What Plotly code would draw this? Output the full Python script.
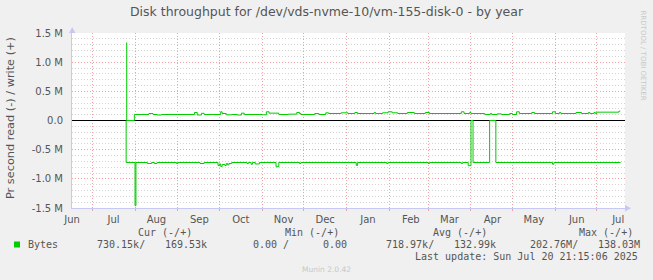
import plotly.graph_objects as go
import pandas as pd

# ---------------- data ----------------
TITLE = "Disk throughput for /dev/vds-nvme-10/vm-155-disk-0 - by year"
Y_TITLE = "Pr second read (-) / write (+)"

X_START = "2024-06-16 10:00"
X_END = "2025-07-21 10:00"

MONTHS = ["2024-06-01", "2024-07-01", "2024-08-01", "2024-09-01", "2024-10-01",
          "2024-11-01", "2024-12-01", "2025-01-01", "2025-02-01", "2025-03-01",
          "2025-04-01", "2025-05-01", "2025-06-01", "2025-07-01"]
MONTH_LABELS = ["Jun", "Jul", "Aug", "Sep", "Oct", "Nov", "Dec",
                "Jan", "Feb", "Mar", "Apr", "May", "Jun", "Jul"]

Y_TICKS = [-1.5e6, -1.0e6, -0.5e6, 0.0, 0.5e6, 1.0e6, 1.5e6]
Y_TICKTEXT = ["-1.5 M", "-1.0 M", "-0.5 M", "0.0", "0.5 M", "1.0 M", "1.5 M"]

# write (+), change points, kB/s
WRITE_DATES = ["2024-07-25 12:00", "2024-07-26", "2024-07-31 12:00", "2024-08-11", "2024-08-14",
               "2024-08-17", "2024-08-20", "2024-09-13", "2024-09-15", "2024-09-18",
               "2024-09-20", "2024-10-02", "2024-10-03", "2024-10-06", "2024-10-10",
               "2024-10-14", "2024-10-17", "2024-10-19", "2024-11-01", "2024-11-04",
               "2024-11-06", "2024-11-13", "2024-11-20", "2024-11-26", "2024-11-28",
               "2024-11-29", "2024-12-09", "2024-12-12", "2024-12-17", "2024-12-19",
               "2024-12-28", "2025-01-02", "2025-01-07", "2025-01-09", "2025-01-21",
               "2025-01-22", "2025-01-27", "2025-01-31", "2025-02-03", "2025-02-07",
               "2025-02-14", "2025-02-19", "2025-02-27", "2025-03-02", "2025-03-25",
               "2025-03-27", "2025-03-31", "2025-04-01", "2025-04-11", "2025-04-15",
               "2025-04-16", "2025-04-20", "2025-04-23", "2025-04-29", "2025-05-01",
               "2025-05-04", "2025-05-06", "2025-05-15", "2025-05-17", "2025-05-30",
               "2025-06-01", "2025-06-04", "2025-06-05", "2025-06-16", "2025-06-20",
               "2025-06-25", "2025-06-26", "2025-06-29", "2025-06-30", "2025-07-01",
               "2025-07-17", "2025-07-18"]
WRITE_KBPS = [1330, 0, 103, 120, 103,
              94, 103, 137, 94, 123,
              103, 149, 120, 97, 103,
              94, 126, 103, 97, 149,
              126, 103, 109, 137, 120,
              103, 120, 103, 132, 120,
              132, 120, 137, 120, 137,
              120, 132, 149, 132, 120,
              137, 120, 137, 120, 149,
              120, 137, 120, 103, 120,
              103, 114, 103, 120, 103,
              149, 120, 137, 120, 149,
              120, 137, 120, 137, 120,
              137, 120, 137, 120, 143,
              160, 160]

# read (-), change points, kB/s
READ_DATES = ["2024-07-25 10:00", "2024-07-25 14:00", "2024-08-01", "2024-08-01 16:00", "2024-08-10",
              "2024-08-13", "2024-08-15", "2024-08-17", "2024-08-31", "2024-09-01",
              "2024-09-17", "2024-09-20", "2024-09-30", "2024-10-01", "2024-10-02",
              "2024-10-03", "2024-10-05", "2024-10-06", "2024-10-07", "2024-10-08",
              "2024-10-10", "2024-10-21", "2024-10-22", "2024-10-24", "2024-10-25",
              "2024-10-27", "2024-10-30", "2024-11-11", "2024-11-13", "2024-11-28",
              "2024-11-29", "2025-01-08", "2025-01-09", "2025-01-30", "2025-01-31",
              "2025-03-01", "2025-03-02", "2025-03-25", "2025-03-26", "2025-03-30",
              "2025-04-01", "2025-04-02 12:00", "2025-04-14 12:00", "2025-04-19", "2025-05-30",
              "2025-05-31", "2025-07-18"]
READ_KBPS = [0, -720, -1460, -720, -737,
             -720, -737, -720, -737, -720,
             -737, -720, -771, -745, -788,
             -755, -771, -737, -760, -737,
             -720, -737, -720, -750, -720,
             -745, -720, -792, -720, -737,
             -720, -771, -720, -737, -720,
             -737, -720, -737, -720, -775,
             0, -720, 0, -720, -750,
             -720, -730]

LEGEND_HEADS = ["Cur (-/+)", "Min (-/+)", "Avg (-/+)", "Max (-/+)"]
SERIES_NAME = "Bytes"
LEGEND_VALUES = ["730.15k/", "169.53k", "0.00 /", "0.00",
                 "718.97k/", "132.99k", "202.76M/", "138.03M"]
LAST_UPDATE = "Last update: Sun Jul 20 21:15:06 2025"
MUNIN = "Munin 2.0.42"
RRD = "RRDTOOL / TOBI OETIKER"

# ---------------- style ----------------
W, H = 653, 280
L, T, PW, PH = 72, 33, 553, 175
BG = "#f0f0f0"
GREEN = "#00cc00"
TXT = "#555555"
MGRID = "#f2a0a0"
GRID = "#d4d4d4"
AXIS = "#c8c8f4"
SANS = "DejaVu Sans"
MONO = "DejaVu Sans Mono"


def px(x):
    return (x - L) / PW


def py(y):
    return 1 - (y - T) / PH


def to_dt(lst):
    return pd.to_datetime(lst, format="ISO8601")


label_pos = [pd.Timestamp(m) + pd.Timedelta(hours=15 * 24 + 12) for m in MONTHS]
grid_pos = [pd.Timestamp(m) for m in MONTHS[1:]]

fig = go.Figure()
fig.add_trace(go.Scatter(x=to_dt(WRITE_DATES), y=[v * 1000 for v in WRITE_KBPS],
                         mode="lines", line=dict(color=GREEN, width=1, shape="hv"),
                         showlegend=False, hoverinfo="skip"))
fig.add_trace(go.Scatter(x=to_dt(READ_DATES), y=[v * 1000 for v in READ_KBPS],
                         mode="lines", line=dict(color=GREEN, width=1, shape="hv"),
                         showlegend=False, hoverinfo="skip"))

fig.update_layout(
    width=W, height=H,
    margin=dict(l=L, r=W - L - PW, t=T, b=H - T - PH, pad=0),
    paper_bgcolor=BG, plot_bgcolor="#ffffff",
    font=dict(family=SANS, size=10, color=TXT),
    title=dict(text=TITLE, x=0.5, xref="container", xanchor="center",
               y=1 - 12 / H, yref="container", yanchor="middle",
               font=dict(family=SANS, size=12.5, color=TXT)),
    xaxis=dict(type="date", range=[X_START, X_END],
               tickmode="array", tickvals=label_pos, ticktext=MONTH_LABELS,
               showgrid=False, ticks="", zeroline=False,
               showline=True, linecolor=AXIS, linewidth=1,
               tickfont=dict(family=SANS, size=10, color=TXT),
               ticklabelstandoff=2,
               minor=dict(tickmode="array", tickvals=grid_pos, showgrid=True,
                          gridcolor=MGRID, griddash="1px,2px", gridwidth=1,
                          ticks="outside", ticklen=2, tickcolor=MGRID)),
    yaxis=dict(range=[-1.5e6, 1.5e6], tickmode="array", tickvals=Y_TICKS, ticktext=Y_TICKTEXT,
               showgrid=True, gridcolor=MGRID, griddash="1px,2px", gridwidth=1,
               zeroline=True, zerolinecolor="#000000", zerolinewidth=1,
               showline=True, linecolor=AXIS, linewidth=1, ticks="",
               tickfont=dict(family=SANS, size=10, color=TXT),
               ticklabelstandoff=6,
               minor=dict(dtick=1e5, showgrid=True, gridcolor=GRID,
                          griddash="1px,2px", gridwidth=1)),
)

# axis arrows
fig.add_shape(type="path", xref="paper", yref="paper", line=dict(width=0), fillcolor=AXIS,
              path=f"M {px(69)},{py(33)} L {px(75.5)},{py(33)} L {px(72.2)},{py(27)} Z")
fig.add_shape(type="path", xref="paper", yref="paper", line=dict(width=0), fillcolor=AXIS,
              path=f"M {px(625)},{py(205)} L {px(625)},{py(211.5)} L {px(631)},{py(208.2)} Z")


def ann(text, x, y, anchor="left", size=10, family=MONO, color=TXT, angle=0):
    fig.add_annotation(text=text, x=px(x), y=py(y), xref="paper", yref="paper",
                       xanchor=anchor, yanchor="middle", showarrow=False,
                       textangle=angle, borderpad=0,
                       font=dict(family=family, size=size, color=color))


# y-axis title
ann(Y_TITLE, 10.5, 118.5, anchor="center", size=11.3, family=SANS, angle=-90)

# legend block
head_x = [137, 284, 432, 578]
for t, x in zip(LEGEND_HEADS, head_x):
    ann(t, x, 232.3)
fig.add_shape(type="rect", xref="paper", yref="paper", line=dict(width=0), fillcolor=GREEN,
              x0=px(14), x1=px(20), y0=py(247.5), y1=py(241.5))
ann(SERIES_NAME, 26.5, 244.3)
val_x = [96, 164, 252, 322, 385, 453, 529, 597]
for t, x in zip(LEGEND_VALUES, val_x):
    ann(t, x, 244.3)
ann(LAST_UPDATE, 639, 256.3, anchor="right")
ann(MUNIN, 326.5, 269.3, anchor="center", size=7.5, family=SANS, color="#c8c8c8")
ann(RRD, 642.5, 55, anchor="center", size=7, family=SANS, color="#c8c8c8", angle=90)

fig.write_html("out.html")
